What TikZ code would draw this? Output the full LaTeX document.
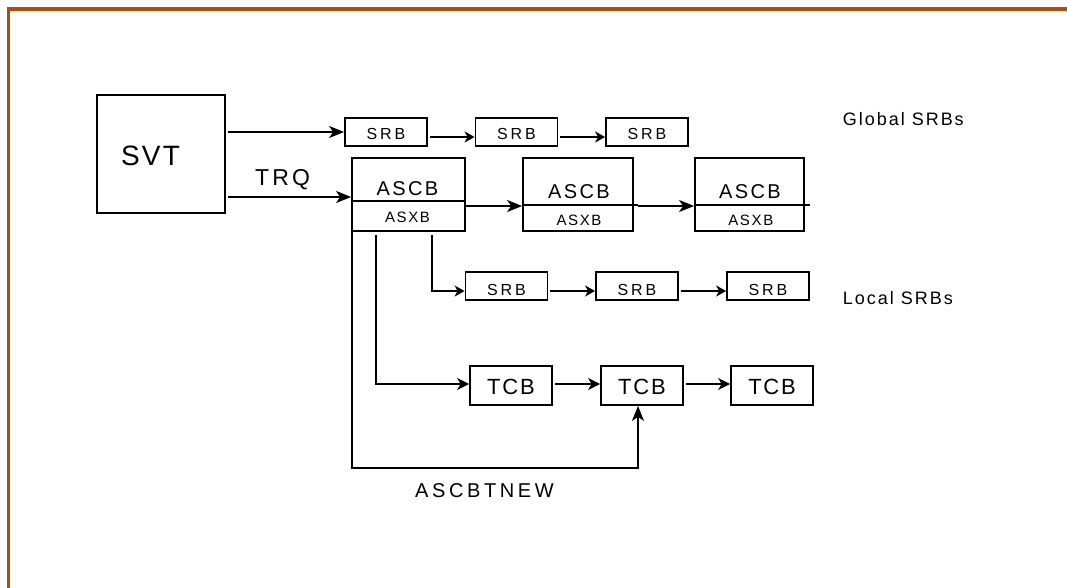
\documentclass[tikz,border=0pt]{standalone}
\usepackage{fontspec}
\setmainfont{Liberation Sans}
\usetikzlibrary{arrows.meta,calc}
\definecolor{framecol}{RGB}{178,76,14}
\newcommand\fSVT{\fontsize{28}{32}\selectfont\addfontfeature{LetterSpace=8}}
\newcommand\fTRQ{\fontsize{23}{26}\selectfont\addfontfeature{LetterSpace=14}}
\newcommand\fASCB{\fontsize{20}{24}\selectfont\addfontfeature{LetterSpace=12}}
\newcommand\fASXB{\fontsize{15}{18}\selectfont\addfontfeature{LetterSpace=11}}
\newcommand\fSRB{\fontsize{16}{19}\selectfont\addfontfeature{LetterSpace=18}}
\newcommand\fTCB{\fontsize{22}{26}\selectfont\addfontfeature{LetterSpace=8}}
\newcommand\fNEW{\fontsize{20}{24}\selectfont\addfontfeature{LetterSpace=18}}
\newcommand\fSIDE{\fontsize{18}{22}\selectfont\addfontfeature{LetterSpace=11}}
\begin{document}
\begin{tikzpicture}[x=1pt,y=-1pt,
  box/.style={draw,line width=1.8pt,rectangle,inner sep=0pt},
  gsrb/.style={box,minimum width=82pt,minimum height=28pt,text height=14.6pt,text depth=0pt,font=\fSRB},
  lsrb/.style={box,minimum width=82pt,minimum height=28pt,text height=18pt,text depth=0pt,font=\fSRB},
  tcbbox/.style={box,minimum width=82pt,minimum height=39pt,text height=17pt,text depth=0pt,font=\fTCB},
  ascbbox/.style={box,minimum height=73pt},
  divline/.style={line width=1.8pt},
  arrbig/.style={line width=1.6pt,-{Stealth[length=15pt,width=12pt,inset=4pt]}},
  arrs/.style={line width=1.7pt,-{Stealth[length=10pt,width=11pt,inset=3pt]}},
  arrm/.style={line width=1.6pt,-{Stealth[length=12pt,width=12pt,inset=3.5pt]}},
  txt/.style={anchor=base,inner sep=0pt}
]
\useasboundingbox (0,0) rectangle (1067,588);
% frame
\draw[framecol,line width=3.5pt] (1067,9) -- (8.7,9) -- (8.7,588);

% SVT
\node[box,minimum width=128pt,minimum height=118pt] (svt) at (161,154) {};
\node[txt,font=\fSVT] (svtt) at (150.5,165) {SVT};

% global SRBs
\node[gsrb] (g1) at (386,132) {SRB};
\node[gsrb] (g2) at (516.5,132) {SRB};
\node[gsrb] (g3) at (647,132) {SRB};
\node[anchor=base west,inner sep=0pt,font=\fSIDE] (glob) at (842.7,125.7) {Global SRBs};

\draw[arrbig] ($(svt.east |- g1.west)+(2,0)$) -- (g1.west);
\draw[arrs] ($(g1.east)+(2,5)$) -- ($(g2.west)+(0,5)$);
\draw[arrs] ($(g2.east)+(2,5)$) -- ($(g3.west)+(0,5)$);

% TRQ
\node[txt,font=\fTRQ] (trq) at (282.5,185.7) {TRQ};

% ASCBs
\node[ascbbox,minimum width=113pt] (a1) at (408.5,194.5) {};
\draw[divline] ($(a1.west)+(0,6.5)$) -- ($(a1.east)+(0,6.5)$);
\node[txt,font=\fASCB] (a1t) at (407.5,195) {ASCB};
\node[txt,font=\fASXB] (a1x) at (407.5,222) {ASXB};

\node[ascbbox,minimum width=110pt] (a2) at (578,194.5) {};
\draw[divline] ($(a2.west)+(0,10.5)$) -- ($(a2.east)+(4,10.5)$);
\node[txt,font=\fASCB] (a2t) at (579,198.3) {ASCB};
\node[txt,font=\fASXB] (a2x) at (579,225) {ASXB};

\node[ascbbox,minimum width=109pt] (a3) at (749.5,194.5) {};
\draw[divline] ($(a3.west)+(0,10.5)$) -- ($(a3.east)+(5,10.5)$);
\node[txt,font=\fASCB] (a3t) at (750,198.3) {ASCB};
\node[txt,font=\fASXB] (a3x) at (750.8,225) {ASXB};

\draw[arrbig] ($(svt.east)+(2,43)$) -- ($(a1.west)+(0,2.5)$);
\draw[arrbig] ($(a1.east)+(0,11.5)$) -- ($(a2.west)+(0,11.5)$);
\draw[arrbig] ($(a2.east)+(4,11.5)$) -- ($(a3.west)+(0,11.5)$);

% local SRBs
\node[lsrb] (l1) at (506.5,286.3) {SRB};
\node[lsrb] (l2) at (637,286.3) {SRB};
\node[lsrb] (l3) at (768,286.3) {SRB};
\node[anchor=base west,inner sep=0pt,font=\fSIDE] (loc) at (842.7,304) {Local SRBs};

\draw[arrs] ($(a1.south)+(23.5,3)$) |- ($(l1.west)+(0,4.7)$);
\draw[arrs] ($(l1.east)+(2,4.7)$) -- ($(l2.west)+(0,4.7)$);
\draw[arrs] ($(l2.east)+(2,4.7)$) -- ($(l3.west)+(0,4.7)$);

% TCBs
\node[tcbbox] (t1) at (511,385.5) {TCB};
\node[tcbbox] (t2) at (642,385.5) {TCB};
\node[tcbbox] (t3) at (772,385.5) {TCB};

\draw[arrm] ($(a1.south)+(-32.5,3)$) |- ($(t1.west)+(0,-1.5)$);
\draw[arrm] ($(t1.east)+(2,-1.5)$) -- ($(t2.west)+(0,-1.5)$);
\draw[arrm] ($(t2.east)+(2,-1.5)$) -- ($(t3.west)+(0,-1.5)$);

\draw[arrbig] ($(a1.south west)+(0.9,0)$) -- ++(0,236) -| ($(t2.south)+(-4,0)$);
\node[txt,font=\fNEW] (new) at (484.5,497.3) {ASCBTNEW};
\end{tikzpicture}
\end{document}
